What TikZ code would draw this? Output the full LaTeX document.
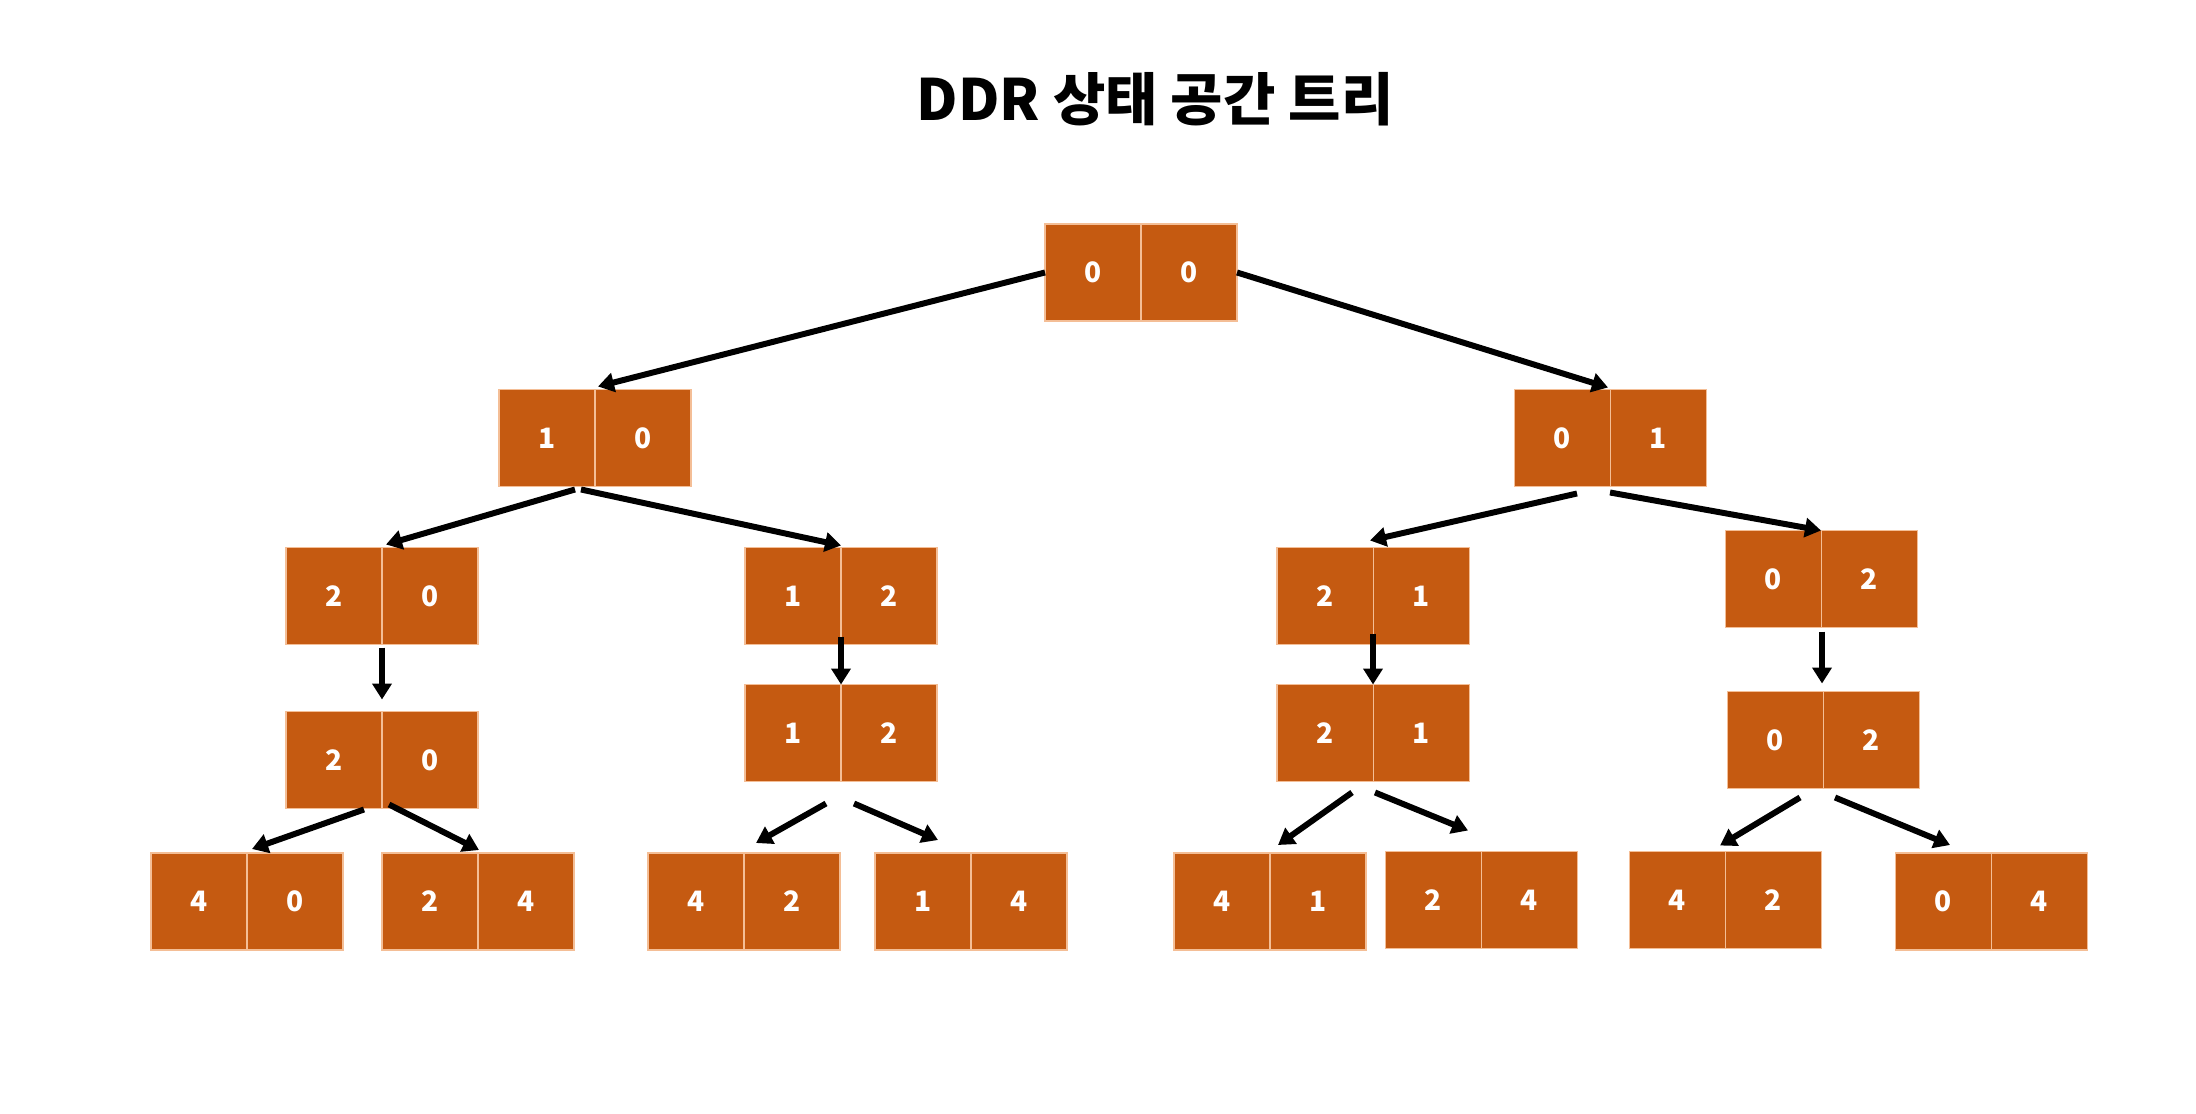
\documentclass[tikz,border=0pt]{standalone}
\usepackage{fontspec}
\setmainfont{Noto Sans CJK KR}
\usetikzlibrary{positioning,calc,arrows.meta}
\definecolor{cellorange}{RGB}{197,90,17}
\definecolor{celledge}{RGB}{244,190,150}
\begin{document}
\begin{tikzpicture}[x=0.1mm, y={(0,-0.1mm)}]
\tikzstyle{cell} = [rectangle, minimum width=9.6mm, minimum height=9.7mm, inner sep=0pt, outer sep=0pt, text centered, draw=celledge, line width=0.3pt, fill=cellorange, text=white, font=\fontsize{8}{9}\selectfont\bfseries]
\tikzstyle{arrow} = [line width=1.7pt, -{Triangle[length=1.6mm,width=1.9mm]}]

    \useasboundingbox (0, 0) rectangle (2196, 1114);

    \node (title) at (1155, 99) {\fontsize{16.2}{19}\selectfont\bfseries DDR 상태 공간 트리};

    % level 0
    \node (s00a) at (1093, 272.5) [cell] {0};
    \node (s00b) [cell, right=0pt of s00a] {0};

    % level 1
    \node (s10a) at (547, 438) [cell] {1};
    \node (s10b) [cell, right=0pt of s10a] {0};
    \node (s01a) at (1562, 438) [cell] {0};
    \node (s01b) [cell, right=0pt of s01a] {1};

    % level 2
    \node (s20a) at (334, 596) [cell] {2};
    \node (s20b) [cell, right=0pt of s20a] {0};
    \node (s12a) at (793, 596) [cell] {1};
    \node (s12b) [cell, right=0pt of s12a] {2};
    \node (s21a) at (1325, 596) [cell] {2};
    \node (s21b) [cell, right=0pt of s21a] {1};
    \node (s02a) at (1773, 579) [cell] {0};
    \node (s02b) [cell, right=0pt of s02a] {2};

    % level 3
    \node (t20a) at (334, 760) [cell] {2};
    \node (t20b) [cell, right=0pt of t20a] {0};
    \node (t12a) at (793, 733) [cell] {1};
    \node (t12b) [cell, right=0pt of t12a] {2};
    \node (t21a) at (1325, 733) [cell] {2};
    \node (t21b) [cell, right=0pt of t21a] {1};
    \node (t02a) at (1775, 740) [cell] {0};
    \node (t02b) [cell, right=0pt of t02a] {2};

    % level 4
    \node (s40a) at (199, 901.5) [cell] {4};
    \node (s40b) [cell, right=0pt of s40a] {0};
    \node (s24a) at (430, 901.5) [cell] {2};
    \node (s24b) [cell, right=0pt of s24a] {4};
    \node (s42a) at (696, 901.5) [cell] {4};
    \node (s42b) [cell, right=0pt of s42a] {2};
    \node (s14a) at (923, 901.5) [cell] {1};
    \node (s14b) [cell, right=0pt of s14a] {4};
    \node (s41a) at (1222, 901.5) [cell] {4};
    \node (s41b) [cell, right=0pt of s41a] {1};
    \node (u24a) at (1433, 900) [cell] {2};
    \node (u24b) [cell, right=0pt of u24a] {4};
    \node (u42a) at (1677, 900) [cell] {4};
    \node (u42b) [cell, right=0pt of u42a] {2};
    \node (s04a) at (1943, 901.5) [cell] {0};
    \node (s04b) [cell, right=0pt of s04a] {4};

    \draw [arrow] (s00a.west) -- ($(s10a.north east)+(3,-3)$);
    \draw [arrow] (s00b.east) -- ($(s01a.north east)+(-2,-2)$);

    \draw [arrow] ($(s10a.south east)+(-20,3)$) -- ($(s20a.north east)+(4,-3)$);
    \draw [arrow] ($(s10a.south east)+(-14,3)$) -- ($(s12a.north east)+(0,-2)$);
    \draw [arrow] ($(s01a.south east)+(-33,7)$) -- ($(s21a.north east)+(-3,-7)$);
    \draw [arrow] ($(s01a.south east)+(0,6)$) -- ($(s02a.north east)+(0,0)$);

    \draw [arrow] ($(s20a.south east)+(0,3)$) -- ($(t20a.north east)+(0,-12)$);
    \draw [arrow] ($(s12a.south east)+(0,-8)$) -- (t12a.north east);
    \draw [arrow] ($(s21a.south east)+(0,-11)$) -- (t21a.north east);
    \draw [arrow] ($(s02a.south east)+(1,4)$) -- ($(t02a.north east)+(-1,-8)$);

    \draw [arrow] ($(t20a.south east)+(-18,1)$) -- ($(s40a.north east)+(5,-4)$);
    \draw [arrow] ($(t20a.south east)+(7,-4)$) -- ($(s24a.north east)+(1,-3)$);
    \draw [arrow] ($(t12a.south east)+(-15,22)$) -- ($(s42a.north east)+(12,-10)$);
    \draw [arrow] ($(t12a.south east)+(13,22)$) -- ($(s14a.north east)+(-33,-13)$);
    \draw [arrow] ($(t21a.south east)+(-21,11)$) -- ($(s41a.north east)+(8,-8)$);
    \draw [arrow] ($(t21a.south east)+(2,11)$) -- ($(u24a.north east)+(-13,-21)$);
    \draw [arrow] ($(t02a.south east)+(-23,9)$) -- ($(u42a.north east)+(-5,-6)$);
    \draw [arrow] ($(t02a.south east)+(12,9)$) -- ($(s04a.north east)+(-41,-8)$);
\end{tikzpicture}
\end{document}
